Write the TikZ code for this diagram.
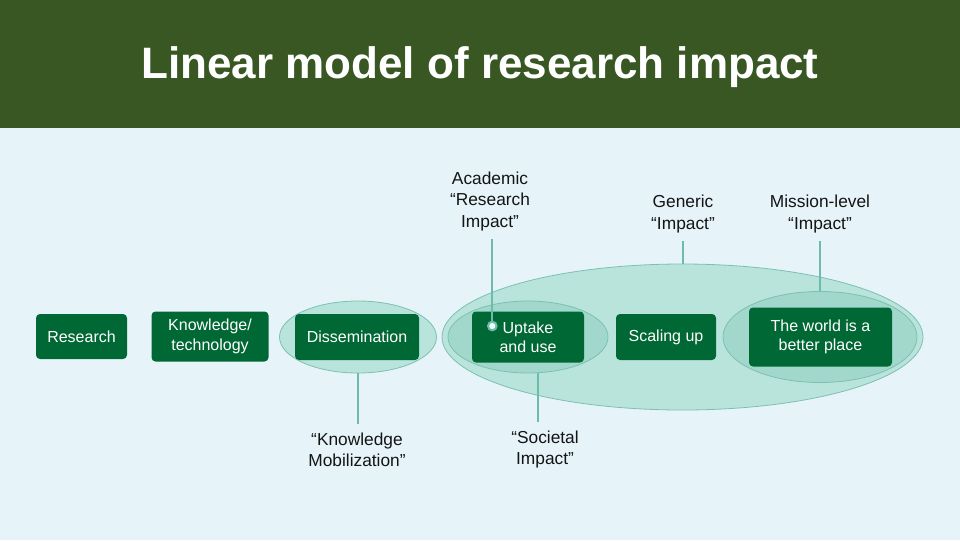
\documentclass[tikz,border=0pt]{standalone}
\usepackage{fontspec}
\setmainfont{Liberation Sans}
\usepackage{tikz}
\usetikzlibrary{shapes.geometric}

\definecolor{titlebar}{RGB}{56,87,35}
\definecolor{canvas}{RGB}{230,244,250}
\definecolor{boxgreen}{RGB}{0,104,52}
\definecolor{ringfill}{RGB}{184,228,219}
\definecolor{ringfilldark}{RGB}{161,216,203}
\definecolor{ringdraw}{RGB}{125,192,178}
\definecolor{stemcol}{RGB}{109,187,170}
\definecolor{labelcol}{RGB}{20,20,20}

\begin{document}
\begin{tikzpicture}[
    x=0.75pt, y=-0.75pt,
    stage/.style={rectangle, rounded corners=3pt, fill=boxgreen, text=white,
      align=center, inner sep=0pt, font=\fontsize{12}{14.5}\selectfont},
    ring/.style={ellipse, draw=ringdraw, line width=0.6pt, fill=ringfill, inner sep=0pt},
    label/.style={align=center, text=labelcol, inner sep=2pt, font=\fontsize{13}{16}\selectfont},
    stem/.style={draw=stemcol, line width=1.7pt},
    dot/.style={circle, draw=stemcol, line width=1.5pt, fill=white!80!ringfill,
      minimum size=6.5pt, inner sep=0pt}
  ]
  \useasboundingbox (0,0) rectangle (960,540);
  \fill[canvas] (0,0) rectangle (960,540);
  \fill[titlebar] (0,0) rectangle (960,128);
  \node[text=white, font=\fontsize{33}{40}\selectfont\bfseries] (title) at (480,67)
    {Linear model of research impact};

  % Rings behind the stages
  \node[ring, minimum width=360.75pt, minimum height=109.5pt] (bigring) at (682.5,337) {};
  \node[ring, fill=ringfilldark, minimum width=120pt, minimum height=54pt] (upring) at (528,337) {};
  \node[ring, fill=ringfilldark, minimum width=145.5pt, minimum height=68.25pt] (worldring) at (820,337) {};
  \node[ring, minimum width=117.75pt, minimum height=54pt] (dissring) at (358,337) {};

  % Stages
  \node[stage, minimum width=68.25pt, minimum height=33.75pt] (research) at (81.5,336.5) {Research};
  \node[stage, minimum width=87.75pt, minimum height=37.5pt] (know) at (210,336.5) {Knowledge/\\technology};
  \node[stage, minimum width=93pt, minimum height=34.5pt] (dissem) at (357,337) {Dissemination};
  \node[stage, minimum width=84pt, minimum height=38.25pt] (uptake) at (528,337) {Uptake\\and use};
  \node[stage, minimum width=75pt, minimum height=34.5pt] (scaling) at (666,337) {Scaling up};
  \node[stage, minimum width=107.25pt, minimum height=44.25pt] (world) at (820.5,337) {The world is a\\better place};

  % Impact labels
  \node[label] (academic) at (490,201.5) {Academic\\“Research\\Impact”};
  \node[label] (generic) at (683,214) {Generic\\“Impact”};
  \node[label] (mission) at (820,214) {Mission-level\\“Impact”};
  \node[label] (kmob) at (357,449.5) {“Knowledge\\Mobilization”};
  \node[label] (societal) at (545,449.5) {“Societal\\Impact”};

  % Stems
  \node[dot] (dot) at (492.3,326) {};
  \draw[stem, shorten >=4pt] (dot.north) -- (dot |- academic.south);
  \draw[stem, shorten <=4pt] (generic.south) -- (generic.south |- bigring.north);
  \draw[stem, shorten <=4pt] (mission.south) -- (worldring.north);
  \draw[stem, shorten >=4.5pt] (dissring.south) -- (dissring.south |- kmob.north);
  \draw[stem, shorten >=4.5pt] ([xshift=7.5pt]upring.south) -- ([xshift=7.5pt]upring.south |- societal.north);
\end{tikzpicture}
\end{document}
